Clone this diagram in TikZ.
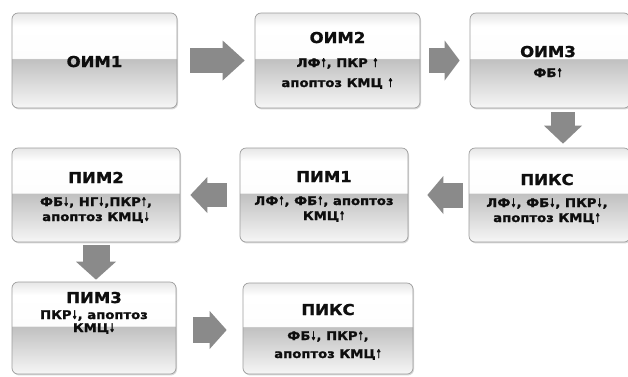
\documentclass[tikz,border=0pt]{standalone}
\usepackage{fontspec}
\usetikzlibrary{arrows.meta,shadows}
\newfontfamily\bxf{DejaVu Sans}[FakeStretch=1.1, FakeBold=1.3]
\newcommand\arrU{\scalebox{0.55}[1]{↑}}
\newcommand\arrD{\scalebox{0.55}[1]{↓}}
\definecolor{boxtop}{HTML}{E6E6E6}
\definecolor{boxmidhi}{HTML}{FDFDFD}
\definecolor{boxmidlo}{HTML}{C0C0C0}
\definecolor{boxbot}{HTML}{F6F6F6}
\definecolor{arrfill}{HTML}{8A8A8A}
\definecolor{boxline}{HTML}{9C9C9C}
\definecolor{txt}{HTML}{0E0E0E}
\pgfdeclareverticalshading{boxgrad}{100bp}{color(0bp)=(boxbot); color(25bp)=(boxbot); color(50.8bp)=(boxmidlo); color(51.2bp)=(boxmidhi); color(68bp)=(white); color(75bp)=(boxtop); color(100bp)=(boxtop)}
\tikzset{
  box/.style={draw=boxline, line width=0.7pt, rounded corners=6pt, shading=boxgrad, inner sep=0pt,
    drop shadow={opacity=0.3, shadow xshift=1pt, shadow yshift=-1.4pt}},
  ttl/.style={anchor=base, font=\bxf\bfseries\fontsize{15}{17}\selectfont, text=txt, inner sep=0pt},
  sub/.style={anchor=base, font=\bxf\bfseries\fontsize{12}{14}\selectfont, text=txt, inner sep=0pt},
  barr/.style n args={3}{draw=arrfill, line width=#1, -{Triangle[length=#2,width=#3,line width=0pt]}}
}
\begin{document}
\begin{tikzpicture}[x=1pt,y=-1pt]
\path[use as bounding box, fill=white] (0,0) rectangle (628,376);
\clip (0,0) rectangle (628,376);
% boxes
\node[box, minimum width=165pt, minimum height=95pt] (oim1) at (94.5,60.5) {};
\node[box, minimum width=165pt, minimum height=95pt] (oim2) at (337.5,60.5) {};
\node[box, minimum width=160pt, minimum height=95pt] (oim3) at (550,60.5) {};
\node[box, minimum width=168pt, minimum height=94pt] (pim2) at (96,195) {};
\node[box, minimum width=168pt, minimum height=94pt] (pim1) at (324,195) {};
\node[box, minimum width=161pt, minimum height=94pt] (piks1) at (549.5,195) {};
\node[box, minimum width=164pt, minimum height=92pt] (pim3) at (94,328) {};
\node[box, minimum width=170pt, minimum height=91pt] (piks2) at (328,328.5) {};
% texts
\node[ttl] (t1) at (94.5,67) {ОИМ1};
\node[ttl] (t2) at (337.5,43) {ОИМ2};
\node[sub] (t2a) at (337.5,67) {ЛФ\arrU, ПКР \arrU};
\node[sub] (t2b) at (337.5,87) {апоптоз КМЦ \arrU};
\node[ttl] (t3) at (548,57) {ОИМ3};
\node[sub] (t3a) at (548,77) {ФБ\arrU};
\node[ttl] (t4) at (96,183) {ПИМ2};
\node[sub] (t4a) at (96,206) {ФБ\arrD, НГ\arrD,ПКР\arrU,};
\node[sub] (t4b) at (96,221) {апоптоз КМЦ\arrD};
\node[ttl] (t5) at (324,182) {ПИМ1};
\node[sub] (t5a) at (324,205) {ЛФ\arrU, ФБ\arrU, апоптоз};
\node[sub] (t5b) at (324,220) {КМЦ\arrU};
\node[ttl] (t6) at (547,185) {ПИКС};
\node[sub] (t6a) at (547,207) {ЛФ\arrD, ФБ\arrD, ПКР\arrD,};
\node[sub] (t6b) at (547,222) {апоптоз КМЦ\arrU};
\node[ttl] (t7) at (94,303) {ПИМ3};
\node[sub] (t7a) at (94,319) {ПКР\arrD, апоптоз};
\node[sub] (t7b) at (94,332) {КМЦ\arrD};
\node[ttl] (t8) at (328,315) {ПИКС};
\node[sub] (t8a) at (328,340) {ФБ\arrD, ПКР\arrU,};
\node[sub] (t8b) at (328,358) {апоптоз КМЦ\arrU};
% connectors
\draw[barr={25pt}{22pt}{40pt}, shorten <=13pt, shorten >=10pt] (oim1.east) -- (oim2.west);
\draw[barr={25pt}{15pt}{40pt}, shorten <=9pt, shorten >=10pt] (oim2.east) -- (oim3.west);
\draw[barr={24pt}{18pt}{38pt}, shorten <=4pt, shorten >=4pt] ([xshift=13pt]oim3.south) -- ([xshift=13pt]oim3.south |- piks1.north);
\draw[barr={25pt}{16pt}{38pt}, shorten <=6pt, shorten >=19pt] (piks1.west) -- (pim1.east);
\draw[barr={24pt}{17pt}{36pt}, shorten <=13pt, shorten >=10pt] (pim1.west) -- (pim2.east);
\draw[barr={27pt}{18pt}{40pt}, shorten <=3pt, shorten >=2pt] (pim2.south) -- (pim2.south |- pim3.north);
\draw[barr={26pt}{17pt}{38pt}, shorten <=17pt, shorten >=16pt] ([yshift=-2pt]pim3.east) -- ([yshift=-2pt]pim3.east -| piks2.west);
\end{tikzpicture}
\end{document}
